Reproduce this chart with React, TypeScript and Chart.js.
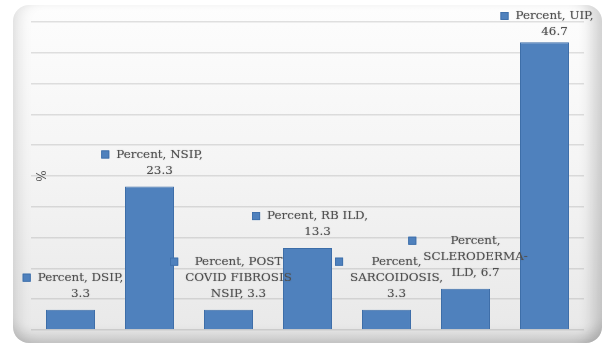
import { useEffect, useRef } from 'react';
import { Chart, registerables } from 'chart.js';

Chart.register(...registerables);

// Series and categories
const seriesName = 'Percent';
const categories = [
  'DSIP',
  'NSIP',
  'POST COVID FIBROSIS NSIP',
  'RB ILD',
  'SARCOIDOSIS',
  'SCLERODERMA-ILD',
  'UIP',
];
const percentValues = [3.3, 23.3, 3.3, 13.3, 3.3, 6.7, 46.7];

// Value axis
const yMin = 0;
const yMax = 50;
const yStep = 5;
const yAxisTitle = '%';

// Wrap width of each data label box, in px
const labelWrapWidths = [96, 96, 108, 108, 96, 96, 96];

const BAR_FILL = '#4f81bd';
const BAR_EDGE = '#3c6da8';
const LABEL_COLOR = '#4f4f4f';
const LABEL_FONT = '11.9px "DejaVu Serif"';

// Greedy word wrap; breaks after spaces and hyphens.
function wrapText(ctx: CanvasRenderingContext2D, text: string, maxWidth: number): string[] {
  const tokens: string[] = [];
  let cur = '';
  for (const ch of text) {
    cur += ch;
    if (ch === ' ' || ch === '-') {
      tokens.push(cur);
      cur = '';
    }
  }
  if (cur) tokens.push(cur);
  const lines: string[] = [];
  let line = '';
  for (const tok of tokens) {
    const trial = line + tok;
    if (line && ctx.measureText(trial.trimEnd()).width > maxWidth) {
      lines.push(line.trimEnd());
      line = tok;
    } else {
      line = trial;
    }
  }
  if (line.trim()) lines.push(line.trimEnd());
  return lines;
}

const keyedLabelPlugin = {
  id: 'keyedLabels',
  afterDatasetsDraw(chart: any) {
    const ctx: CanvasRenderingContext2D = chart.ctx;
    const meta = chart.getDatasetMeta(0);
    ctx.save();
    ctx.font = LABEL_FONT;
    ctx.textAlign = 'center';
    ctx.textBaseline = 'middle';
    const lineH = 16;
    meta.data.forEach((bar: any, i: number) => {
      const text = `${seriesName}, ${categories[i]}, ${percentValues[i].toFixed(1)}`;
      const lines = wrapText(ctx, text, labelWrapWidths[i]);
      const lastY = bar.y - 16;
      let firstY = lastY - (lines.length - 1) * lineH;
      if (firstY < 16) firstY = 16;
      const cx = bar.x + 10;
      const maxW = Math.max(...lines.map((l) => ctx.measureText(l).width));
      const keySize = 8;
      const keyX = cx - maxW / 2 - 7 - keySize;
      ctx.fillStyle = BAR_FILL;
      ctx.fillRect(keyX, firstY - keySize / 2, keySize, keySize);
      ctx.strokeStyle = BAR_EDGE;
      ctx.lineWidth = 0.8;
      ctx.strokeRect(keyX + 0.4, firstY - keySize / 2 + 0.4, keySize - 0.8, keySize - 0.8);
      ctx.fillStyle = LABEL_COLOR;
      ctx.shadowColor = 'rgba(80,80,80,0.45)';
      ctx.shadowBlur = 1.2;
      lines.forEach((l, j) => ctx.fillText(l, cx, firstY + j * lineH));
      ctx.shadowBlur = 0;
      ctx.shadowColor = 'transparent';
    });

    // value axis title
    ctx.translate(43, 176);
    ctx.rotate(-Math.PI / 2);
    ctx.font = '12px "DejaVu Serif"';
    ctx.fillStyle = '#555555';
    ctx.fillText(yAxisTitle, 0, 0);
    ctx.restore();
  },
};

export default function App() {
  const canvasRef = useRef<HTMLCanvasElement | null>(null);

  useEffect(() => {
    if (!canvasRef.current) return;
    const chart = new Chart(canvasRef.current, {
      type: 'bar',
      data: {
        labels: categories,
        datasets: [
          {
            label: seriesName,
            data: percentValues,
            backgroundColor: BAR_FILL,
            borderColor: BAR_EDGE,
            borderWidth: 1,
            categoryPercentage: 1,
            barPercentage: 0.62,
          },
        ],
      },
      options: {
        animation: false,
        responsive: false,
        devicePixelRatio: 1,
        layout: { padding: { left: 31, right: 23, top: 22, bottom: 14 } },
        plugins: {
          legend: { display: false },
          tooltip: { enabled: false },
        },
        scales: {
          x: { display: false },
          y: {
            min: yMin,
            max: yMax,
            ticks: { display: false, stepSize: yStep },
            grid: {
              color: 'rgba(110,110,110,0.2)',
              lineWidth: 1.5,
              drawTicks: false,
            },
            border: { display: false },
            afterFit: (scale: any) => {
              scale.width = 0;
            },
          },
        },
      },
      plugins: [keyedLabelPlugin],
    });
    return () => chart.destroy();
  }, []);

  return (
    <div style={{ position: 'absolute', left: 0, top: 0, width: 607, height: 344, background: '#ffffff', overflow: 'hidden' }}>
      <div
        style={{
          position: 'absolute',
          left: 13,
          top: 5,
          width: 589,
          height: 338,
          borderRadius: 16,
          background: 'linear-gradient(to bottom, #fdfdfd 0%, #f5f5f5 45%, #e8e8e8 100%)',
          boxShadow:
            'inset 14px 0 14px -8px rgba(0,0,0,0.10), inset -18px 0 14px -8px rgba(0,0,0,0.16), inset 0 -14px 12px -6px rgba(0,0,0,0.14)',
        }}
      />
      <canvas ref={canvasRef} width={607} height={344} style={{ position: 'absolute', left: 0, top: 0, width: 607, height: 344 }} />
    </div>
  );
}
